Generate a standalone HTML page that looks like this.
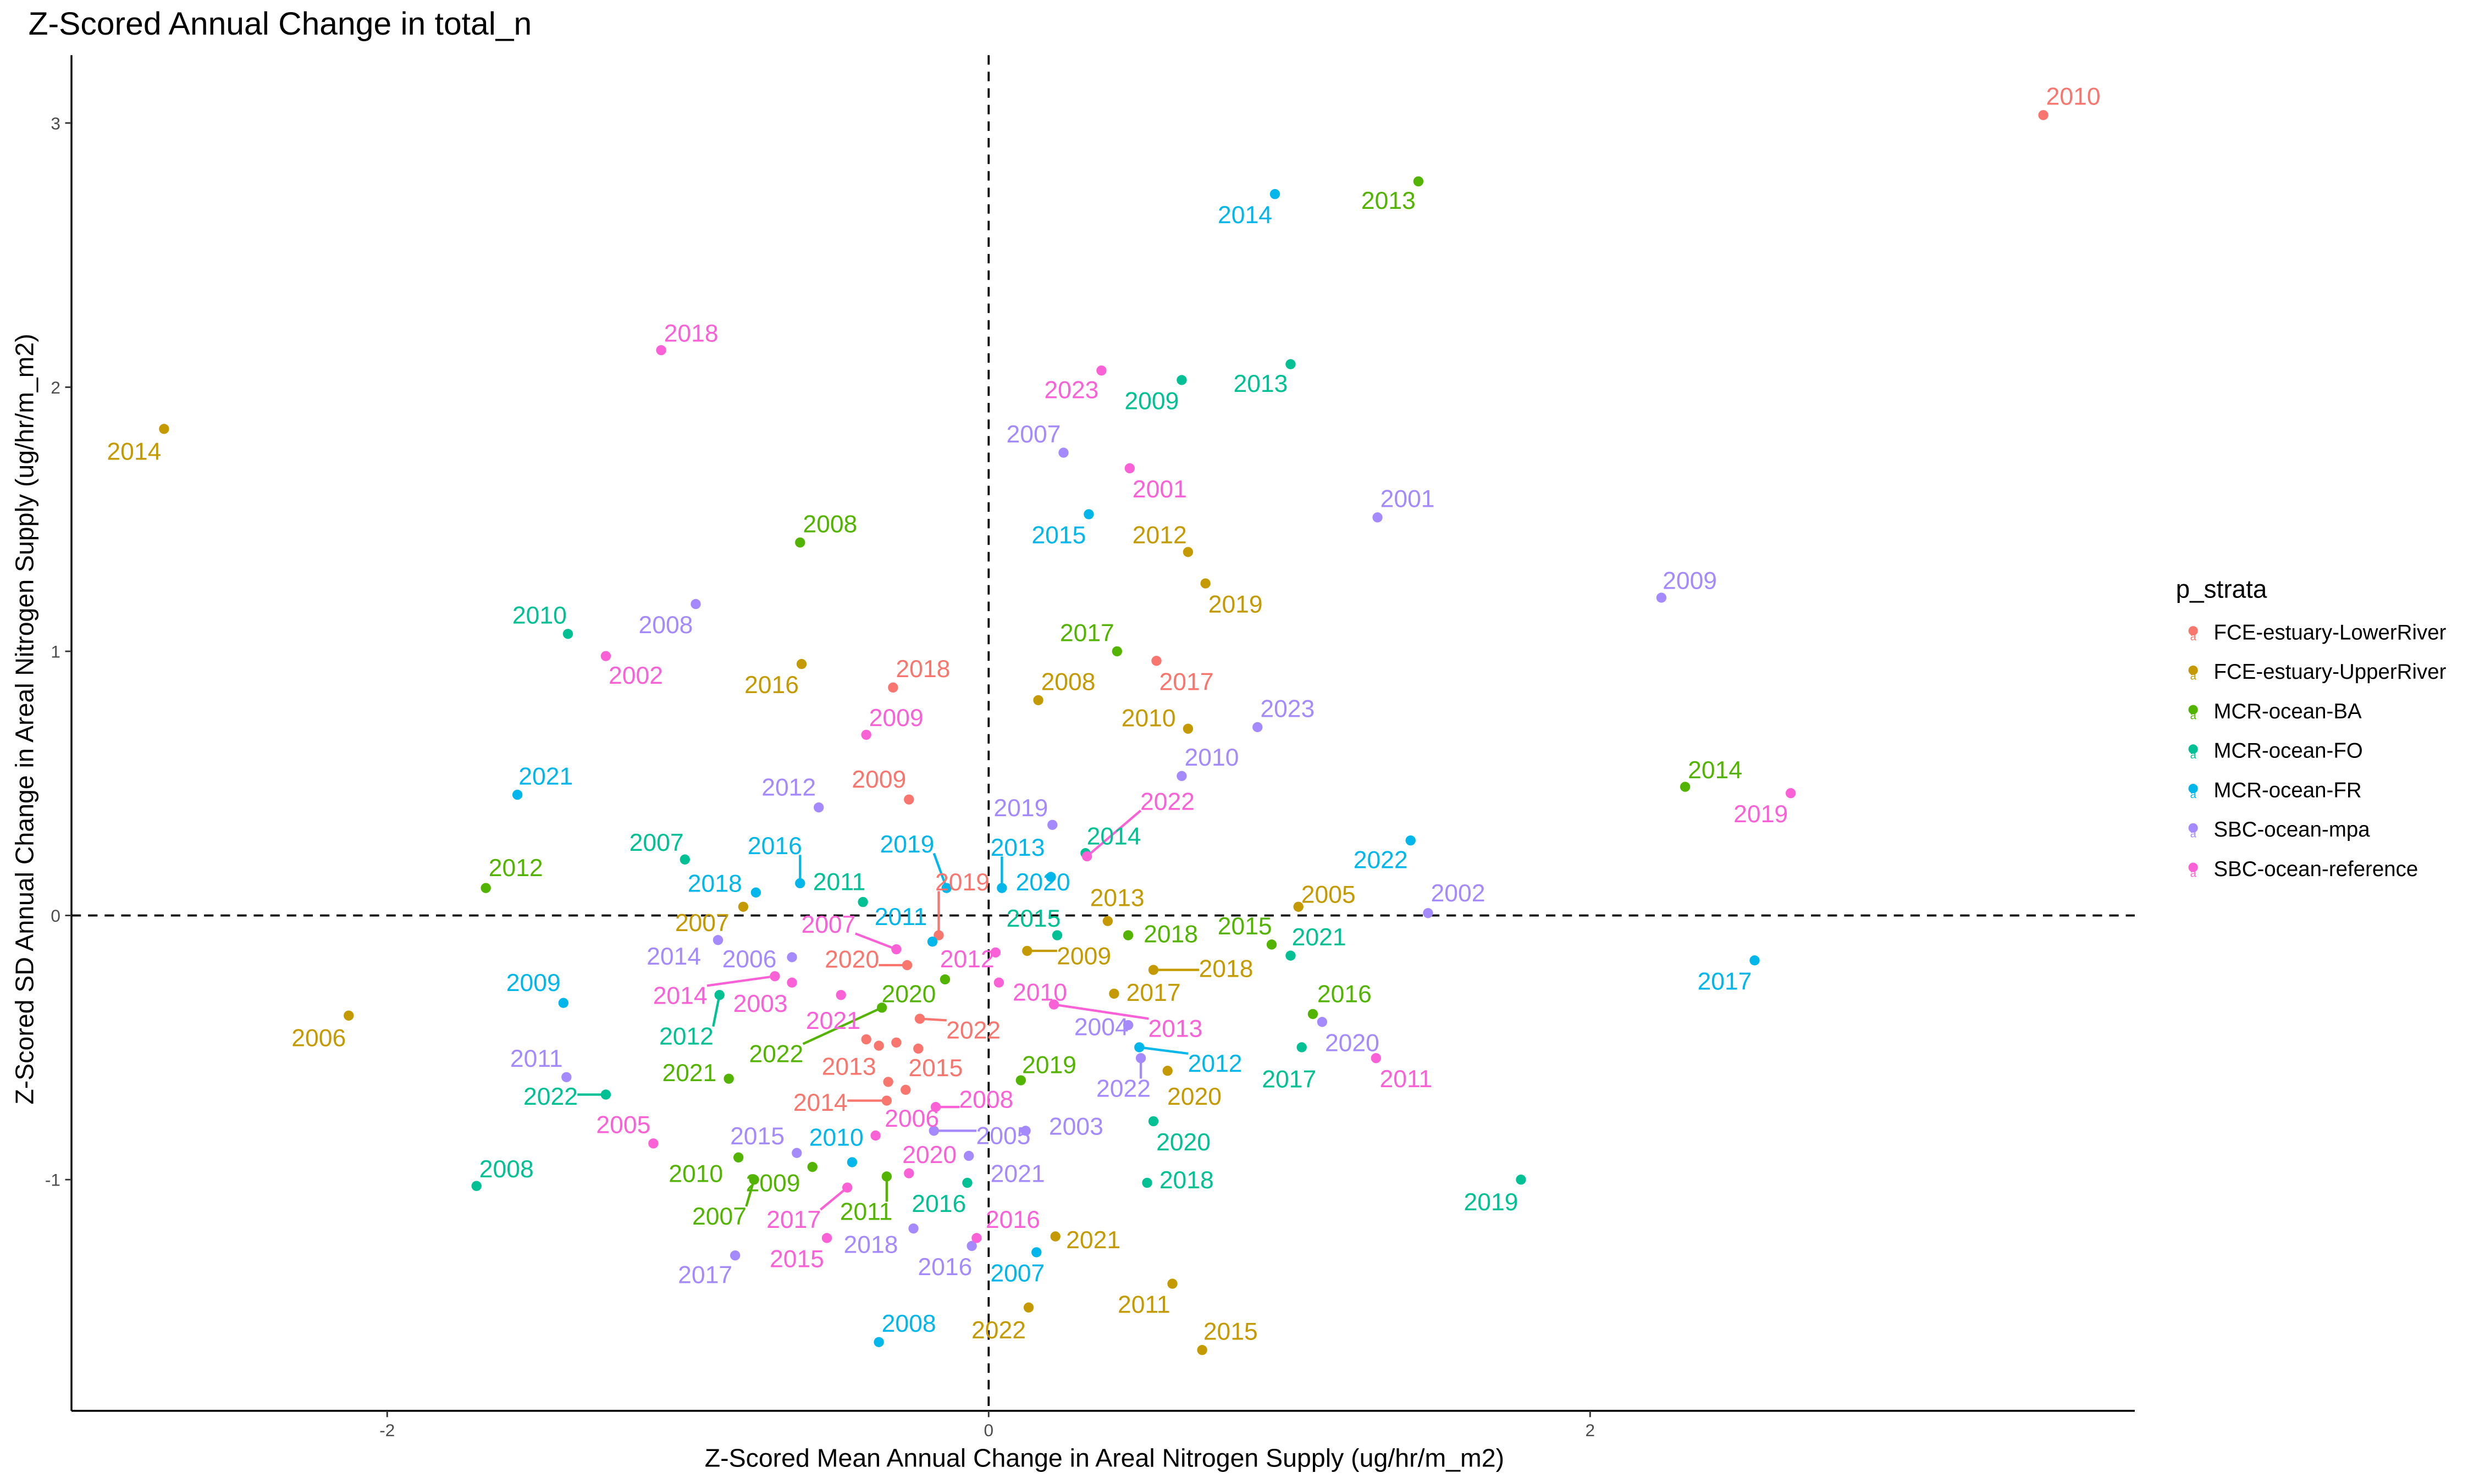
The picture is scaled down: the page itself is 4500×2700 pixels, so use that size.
<!DOCTYPE html>
<html><head><meta charset="utf-8"><title>Z-Scored Annual Change in total_n</title>
<style>
html,body{margin:0;padding:0;background:#fff;}
svg{display:block;font-family:"Liberation Sans",Arial,sans-serif;}
</style></head>
<body>
<svg id="chart" width="4500" height="2700" viewBox="0 0 1568 941" preserveAspectRatio="none" xmlns="http://www.w3.org/2000/svg">
  <rect x="0" y="0" width="1568" height="941" fill="#fff"/>
  <text x="18" y="22" font-size="20.5" fill="#000">Z-Scored Annual Change in total_n</text>
  <g id="gridlayer"></g>
  <g id="segs"></g>
  <g id="pts"></g>
  <g id="labels"></g>
  <g id="axes"></g>
  <text x="700" y="930" font-size="16.2" text-anchor="middle" fill="#000">Z-Scored Mean Annual Change in Areal Nitrogen Supply (ug/hr/m_m2)</text>
  <text transform="translate(21,456) rotate(-90)" font-size="16.2" text-anchor="middle" fill="#000">Z-Scored SD Annual Change in Areal Nitrogen Supply (ug/hr/m_m2)</text>
  <g id="legend"></g>
</svg>
<script>
// ---- data ----
const strata = ["FCE-estuary-LowerRiver","FCE-estuary-UpperRiver","MCR-ocean-BA","MCR-ocean-FO","MCR-ocean-FR","SBC-ocean-mpa","SBC-ocean-reference"];
const colors = ["#F8766D","#C49A00","#53B400","#00C094","#00B6EB","#A58AFF","#FB61D7"];
const xTicks = [-2, 0, 2];
const yTicks = [-1, 0, 1, 2, 3];

const yearsLR = ["2010","2018","2017","2009","2019","2020","2022","2013","2015","2014","","","",""];
const xLR = [3.507,-0.318,0.558,-0.265,-0.166,-0.271,-0.229,-0.365,-0.234,-0.339,-0.407,-0.307,-0.334,-0.276];
const yLR = [3.030,0.863,0.964,0.439,-0.075,-0.188,-0.391,-0.493,-0.504,-0.701,-0.469,-0.481,-0.630,-0.660];
const offLR = [[19,-12],[19,-12],[19,13],[-19,-13],[15,-34],[-35,-4],[34,7],[-19,13],[11,12],[-42,1],null,null,null,null];
const segLR = ["2019","2020","2022","2014"];

const yearsUR = ["2014","2016","2008","2012","2019","2010","2005","2013","2007","2009","2018","2017","2020","2006","2021","2011","2022","2015"];
const xUR = [-2.742,-0.622,0.165,0.663,0.721,0.663,1.030,0.396,-0.816,0.128,0.548,0.417,0.595,-2.128,0.222,0.611,0.133,0.710];
const yUR = [1.842,0.952,0.815,1.376,1.257,0.707,0.033,-0.021,0.033,-0.134,-0.206,-0.296,-0.588,-0.379,-1.215,-1.394,-1.484,-1.645];
const offUR = [[-19,14],[-19,13],[19,-12],[-18,-11],[19,13],[-25,-7],[19,-8],[6,-15],[-26,10],[36,3],[46,-1],[25,-1],[17,16],[-19,14],[24,2],[-18,13],[-19,14],[18,-12]];
const segUR = ["2009","2018"];

const yearsBA = ["2013","2008","2017","2014","2012","2018","2015","2020","2016","2022","2021","2019","2010","2009","2007","2011"];
const xBA = [1.429,-0.627,0.427,2.316,-1.672,0.464,0.941,-0.145,1.078,-0.355,-0.864,0.107,-0.832,-0.586,-0.780,-0.339];
const yBA = [2.779,1.412,1.000,0.487,0.104,-0.075,-0.110,-0.242,-0.373,-0.349,-0.618,-0.624,-0.916,-0.952,-1.000,-0.988];
const offBA = [[-19,12],[19,-12],[-19,-12],[19,-11],[19,-13],[27,-1],[-17,-12],[-23,9],[20,-13],[-67,29],[-25,-4],[18,-10],[-27,10],[-25,10],[-22,23],[-13,22]];
const segBA = ["2022","2007","2011"];

const yearsFO = ["2009","2013","2010","2007","2011","2014","2015","2021","2012","2022","2017","2020","2018","2016","2019","2008"];
const xFO = [0.642,1.004,-1.399,-1.010,-0.418,0.322,0.228,1.004,-0.895,-1.273,1.041,0.548,0.527,-0.071,1.770,-1.703];
const yFO = [2.027,2.087,1.066,0.212,0.051,0.236,-0.075,-0.152,-0.301,-0.678,-0.499,-0.779,-1.012,-1.012,-1.000,-1.024];
const offFO = [[-19,13],[-19,12],[-18,-12],[-18,-11],[-15,-13],[18,-11],[-15,-11],[18,-12],[-21,26],[-35,1],[-8,20],[19,13],[25,-2],[-18,13],[-19,14],[19,-11]];
const segFO = ["2012","2022"];

const yearsFR = ["2014","2015","2021","2016","2019","2018","2011","2013","2020","2022","2017","2009","2012","2010","2007","2008"];
const xFR = [0.952,0.333,-1.567,-0.627,-0.140,-0.774,-0.187,0.044,0.207,1.403,2.547,-1.414,0.501,-0.454,0.159,-0.365];
const yFR = [2.731,1.519,0.457,0.122,0.104,0.087,-0.099,0.104,0.146,0.284,-0.170,-0.331,-0.499,-0.934,-1.275,-1.615];
const offFR = [[-19,13],[-19,13],[18,-12],[-16,-24],[-25,-28],[-26,-6],[-20,-16],[10,-26],[-5,3],[-19,12],[-19,13],[-19,-13],[48,10],[-10,-16],[-12,13],[19,-12]];
const segFR = ["2016","2019","2013","2012"];

const yearsMPA = ["2007","2001","2009","2008","2023","2010","2012","2019","2002","2014","2006","2004","2020","2022","2011","2003","2005","2015","2021","2018","2016","2017"];
const xMPA = [0.249,1.293,2.237,-0.974,0.894,0.642,-0.565,0.212,1.461,-0.900,-0.654,0.464,1.109,0.506,-1.404,0.123,-0.182,-0.638,-0.066,-0.250,-0.056,-0.843];
const yMPA = [1.752,1.507,1.203,1.179,0.713,0.528,0.409,0.343,0.009,-0.093,-0.158,-0.415,-0.403,-0.540,-0.612,-0.815,-0.815,-0.899,-0.910,-1.185,-1.251,-1.287];
const offMPA = [[-19,-12],[19,-12],[18,-11],[-19,13],[19,-12],[19,-12],[-19,-13],[-20,-11],[19,-13],[-28,10],[-27,1],[-17,1],[19,13],[-11,19],[-19,-12],[32,-3],[44,3],[-25,-11],[31,11],[-27,10],[-17,13],[-19,12]];
const segMPA = ["2022","2005"];

const yearsREF = ["2018","2023","2001","2002","2009","2022","2019","2007","2012","2010","2013","2014","2003","2021","2011","2005","2008","2006","2020","2017","2015","2016"];
const xREF = [-1.089,0.375,0.469,-1.273,-0.407,0.327,2.667,-0.307,0.023,0.034,0.217,-0.711,-0.654,-0.491,1.288,-1.115,-0.176,-0.376,-0.265,-0.470,-0.538,-0.040];
const yREF = [2.140,2.063,1.693,0.982,0.684,0.224,0.463,-0.128,-0.140,-0.254,-0.337,-0.230,-0.254,-0.301,-0.540,-0.863,-0.725,-0.833,-0.976,-1.030,-1.221,-1.221];
const offREF = [[19,-11],[-19,12],[19,13],[19,12],[19,-11],[51,-35],[-19,13],[-43,-16],[-18,4],[26,6],[77,15],[-60,12],[-20,13],[-5,16],[19,13],[-19,-12],[32,-5],[23,-11],[13,-12],[-34,20],[-19,13],[23,-12]];
const segREF = ["2022","2007","2013","2014","2008","2017"];

// ---- layout ----
const panel = {left:45.3, right:1353, top:35, bottom:894.6};
const X0 = 626.6, XU = 190.6, Y0 = 580.5, YU = 167.5;
function sx(v){ return X0 + v*XU; }
function sy(v){ return Y0 - v*YU; }
const NS = "http://www.w3.org/2000/svg";
function mk(tag, attrs, parent){
  const el = document.createElementNS(NS, tag);
  for (const k in attrs) el.setAttribute(k, attrs[k]);
  parent.appendChild(el);
  return el;
}

const grid = document.getElementById('gridlayer');
const vline = mk('line',{x1:sx(0),x2:sx(0),y1:panel.top,y2:panel.bottom,stroke:'#000','stroke-width':1.3,'stroke-dasharray':'6,4.5'},grid);


const hline = mk('line',{x1:panel.left,x2:panel.right,y1:sy(0),y2:sy(0),stroke:'#000','stroke-width':1.3,'stroke-dasharray':'6,4.5'},grid);



const axes = document.getElementById('axes');
const yAxis = mk('line',{x1:panel.left,x2:panel.left,y1:panel.top,y2:panel.bottom,stroke:'#000','stroke-width':1.2},axes);


const xAxis = mk('line',{x1:panel.left,x2:panel.right,y1:panel.bottom,y2:panel.bottom,stroke:'#000','stroke-width':1.2},axes);


xTicks.forEach(t=>{
  const tk = mk('line',{x1:sx(t),x2:sx(t),y1:panel.bottom,y2:panel.bottom+4,stroke:'#333','stroke-width':1},axes);
  
  
  const tl = mk('text',{x:sx(t),y:panel.bottom+16,'font-size':11,'text-anchor':'middle',fill:'#4d4d4d'},axes);
  tl.textContent = String(t);
  
  
});
yTicks.forEach(t=>{
  const tk = mk('line',{x1:panel.left-4,x2:panel.left,y1:sy(t),y2:sy(t),stroke:'#333','stroke-width':1},axes);
  
  
  const tl = mk('text',{x:panel.left-7,y:sy(t)+4,'font-size':11,'text-anchor':'end',fill:'#4d4d4d'},axes);
  tl.textContent = String(t);
  
  
});

const series = [
  [yearsLR,xLR,yLR,offLR,segLR],
  [yearsUR,xUR,yUR,offUR,segUR],
  [yearsBA,xBA,yBA,offBA,segBA],
  [yearsFO,xFO,yFO,offFO,segFO],
  [yearsFR,xFR,yFR,offFR,segFR],
  [yearsMPA,xMPA,yMPA,offMPA,segMPA],
  [yearsREF,xREF,yREF,offREF,segREF]
];
const segG = document.getElementById('segs');
const ptG = document.getElementById('pts');
const lbG = document.getElementById('labels');
series.forEach((s,si)=>{
  const [yrs,xs,ys,offs,segs] = s;
  const col = colors[si];
  for (let i=0;i<xs.length;i++){
    const px = sx(xs[i]), py = sy(ys[i]);
    const c = mk('circle',{cx:px,cy:py,r:3.2,fill:col},ptG);
    
    
    if (!offs[i] || !yrs[i]) continue;
    const lx = px + offs[i][0], ly = py + offs[i][1];
    if (segs.indexOf(yrs[i]) >= 0){
      const ex = Math.min(Math.max(px, lx-17), lx+17);
      const ey = Math.min(Math.max(py, ly-6), ly+6);
      const ln = mk('line',{x1:px,y1:py,x2:ex,y2:ey,stroke:col,'stroke-width':1.5},segG);
      
      
    }
    const t = mk('text',{x:lx,y:ly+5.5,'font-size':15.5,'text-anchor':'middle',fill:col},lbG);
    t.textContent = yrs[i];
    
    
  }
});

const lg = document.getElementById('legend');
const lt = mk('text',{x:1379,y:379,'font-size':16,fill:'#000'},lg);
lt.textContent = 'p_strata';


strata.forEach((name,i)=>{
  const y = 401 + i*25;
  const d = mk('circle',{cx:1390,cy:y-1,r:3,fill:colors[i]},lg);
  
  
  const a = mk('text',{x:1390,y:y+5,'font-size':7,'text-anchor':'middle',fill:colors[i]},lg);
  a.textContent = 'a';
  
  
  const tx = mk('text',{x:1403,y:y+4.5,'font-size':13.4,fill:'#000'},lg);
  tx.textContent = name;
  
  
});
</script>
</body></html>
